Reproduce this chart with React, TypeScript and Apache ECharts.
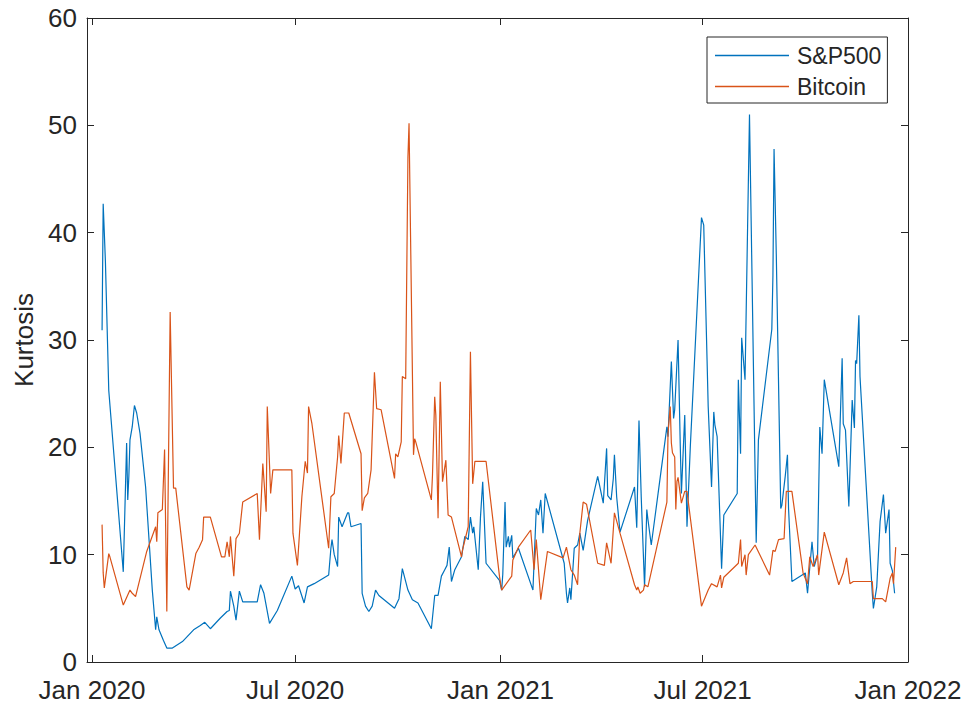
import React, { useEffect, useRef } from "react";
import * as echarts from "echarts";

// Rolling kurtosis of daily returns, S&P500 vs Bitcoin
const sp500: [string, number][] = [
  ["2020-01-10", 30.9], ["2020-01-11", 42.7], ["2020-01-13", 37.3], ["2020-01-16", 25.3],
  ["2020-01-29", 8.4], ["2020-02-01", 20.4], ["2020-02-02", 15.1], ["2020-02-03", 17.3],
  ["2020-02-04", 20.7], ["2020-02-06", 21.9], ["2020-02-08", 23.9], ["2020-02-10", 23.2],
  ["2020-02-13", 21.3], ["2020-02-18", 16.3], ["2020-02-24", 6.7], ["2020-02-27", 3.0],
  ["2020-02-28", 4.2], ["2020-03-01", 3.0], ["2020-03-05", 2.0], ["2020-03-08", 1.3],
  ["2020-03-13", 1.3], ["2020-03-22", 1.9], ["2020-04-01", 3.0], ["2020-04-07", 3.4],
  ["2020-04-11", 3.7], ["2020-04-16", 3.1], ["2020-04-25", 4.1], ["2020-05-01", 4.7],
  ["2020-05-03", 4.8], ["2020-05-04", 6.6], ["2020-05-07", 5.2], ["2020-05-09", 3.9],
  ["2020-05-12", 6.6], ["2020-05-15", 5.6], ["2020-05-28", 5.6], ["2020-05-31", 7.2],
  ["2020-06-03", 6.4], ["2020-06-08", 3.6], ["2020-06-15", 4.8], ["2020-06-28", 8.0],
  ["2020-07-01", 6.8], ["2020-07-04", 7.1], ["2020-07-09", 5.5], ["2020-07-12", 7.0],
  ["2020-07-18", 7.3], ["2020-07-31", 8.1], ["2020-08-02", 10.6], ["2020-08-03", 11.4],
  ["2020-08-05", 10.0], ["2020-08-08", 8.9], ["2020-08-09", 13.5], ["2020-08-12", 12.6],
  ["2020-08-17", 13.9], ["2020-08-18", 13.9], ["2020-08-20", 12.6], ["2020-08-29", 12.9],
  ["2020-08-30", 6.4], ["2020-09-02", 5.2], ["2020-09-05", 4.7], ["2020-09-08", 5.2],
  ["2020-09-11", 6.7], ["2020-09-14", 6.2], ["2020-09-28", 5.0], ["2020-10-02", 5.9],
  ["2020-10-05", 8.7], ["2020-10-10", 6.7], ["2020-10-14", 5.8], ["2020-10-19", 5.5],
  ["2020-10-31", 3.1], ["2020-11-03", 6.2], ["2020-11-06", 6.2], ["2020-11-09", 8.0],
  ["2020-11-12", 8.6], ["2020-11-14", 9.0], ["2020-11-16", 10.7], ["2020-11-18", 7.5],
  ["2020-11-21", 8.6], ["2020-11-27", 9.8], ["2020-11-30", 11.7], ["2020-12-03", 11.4],
  ["2020-12-05", 13.5], ["2020-12-07", 12.0], ["2020-12-08", 12.6], ["2020-12-12", 8.6],
  ["2020-12-14", 13.5], ["2020-12-16", 16.8], ["2020-12-19", 9.2], ["2020-12-31", 7.6],
  ["2021-01-02", 6.7], ["2021-01-03", 8.2], ["2021-01-05", 14.9], ["2021-01-06", 10.7],
  ["2021-01-08", 11.7], ["2021-01-09", 10.7], ["2021-01-11", 11.8], ["2021-01-12", 9.7],
  ["2021-01-17", 10.6], ["2021-01-30", 6.7], ["2021-02-02", 14.3], ["2021-02-04", 13.7],
  ["2021-02-06", 15.1], ["2021-02-08", 12.0], ["2021-02-10", 15.7], ["2021-02-27", 9.2],
  ["2021-03-01", 6.4], ["2021-03-02", 5.5], ["2021-03-04", 6.9], ["2021-03-05", 5.8],
  ["2021-03-08", 10.6], ["2021-03-11", 10.9], ["2021-03-13", 12.0], ["2021-03-16", 10.4],
  ["2021-03-20", 13.2], ["2021-03-29", 17.3], ["2021-04-03", 14.8], ["2021-04-06", 19.9],
  ["2021-04-07", 15.5], ["2021-04-10", 15.1], ["2021-04-12", 17.1], ["2021-04-13", 19.3],
  ["2021-04-15", 15.4], ["2021-04-18", 12.1], ["2021-05-01", 16.3], ["2021-05-03", 12.5],
  ["2021-05-05", 22.5], ["2021-05-07", 15.4], ["2021-05-10", 7.0], ["2021-05-12", 14.2],
  ["2021-05-13", 13.3], ["2021-05-16", 10.9], ["2021-05-30", 21.9], ["2021-05-31", 21.0],
  ["2021-06-03", 28.0], ["2021-06-05", 22.7], ["2021-06-06", 23.5], ["2021-06-09", 30.0],
  ["2021-06-11", 20.1], ["2021-06-12", 15.7], ["2021-06-15", 23.0], ["2021-06-17", 12.6],
  ["2021-06-20", 20.1], ["2021-06-30", 41.4], ["2021-07-02", 40.7], ["2021-07-05", 28.1],
  ["2021-07-06", 23.8], ["2021-07-09", 16.3], ["2021-07-11", 23.3], ["2021-07-12", 22.1],
  ["2021-07-14", 21.0], ["2021-07-18", 8.7], ["2021-07-20", 13.7], ["2021-08-01", 15.7],
  ["2021-08-02", 26.3], ["2021-08-04", 19.4], ["2021-08-05", 30.2], ["2021-08-08", 26.3],
  ["2021-08-12", 51.0], ["2021-08-18", 11.1], ["2021-08-20", 20.7], ["2021-09-01", 31.0],
  ["2021-09-02", 36.0], ["2021-09-03", 47.8], ["2021-09-05", 38.0], ["2021-09-09", 14.3],
  ["2021-09-10", 14.6], ["2021-09-13", 17.3], ["2021-09-15", 19.3], ["2021-09-16", 14.3],
  ["2021-09-19", 7.5], ["2021-10-01", 8.3], ["2021-10-03", 6.4], ["2021-10-07", 11.2],
  ["2021-10-09", 8.9], ["2021-10-12", 10.0], ["2021-10-14", 21.9], ["2021-10-16", 19.4],
  ["2021-10-18", 26.3], ["2021-10-31", 18.2], ["2021-11-01", 21.6], ["2021-11-03", 28.3],
  ["2021-11-04", 22.2], ["2021-11-06", 21.6], ["2021-11-09", 14.5], ["2021-11-12", 24.4],
  ["2021-11-14", 21.8], ["2021-11-15", 28.1], ["2021-11-16", 27.8], ["2021-11-18", 32.3],
  ["2021-11-19", 26.6], ["2021-11-30", 6.4], ["2021-12-01", 5.0], ["2021-12-04", 7.0],
  ["2021-12-07", 13.1], ["2021-12-10", 15.6], ["2021-12-12", 12.0], ["2021-12-15", 14.2],
  ["2021-12-16", 9.2], ["2021-12-18", 8.5], ["2021-12-20", 6.4],
];

const bitcoin: [string, number][] = [
  ["2020-01-10", 12.8], ["2020-01-11", 8.3], ["2020-01-12", 6.9], ["2020-01-16", 10.1],
  ["2020-01-17", 9.8], ["2020-01-29", 5.3], ["2020-02-04", 6.7], ["2020-02-06", 6.4],
  ["2020-02-09", 6.1], ["2020-02-19", 10.3], ["2020-02-27", 12.6], ["2020-02-28", 11.2],
  ["2020-02-29", 13.9], ["2020-03-04", 14.2], ["2020-03-06", 19.8], ["2020-03-08", 4.7],
  ["2020-03-11", 32.6], ["2020-03-14", 16.2], ["2020-03-16", 16.2], ["2020-03-26", 7.0],
  ["2020-03-28", 6.7], ["2020-04-03", 10.1], ["2020-04-06", 10.7], ["2020-04-09", 11.4],
  ["2020-04-10", 13.5], ["2020-04-16", 13.5], ["2020-04-26", 9.8], ["2020-04-29", 9.8],
  ["2020-05-01", 11.2], ["2020-05-03", 9.8], ["2020-05-04", 11.7], ["2020-05-07", 8.0],
  ["2020-05-09", 11.5], ["2020-05-12", 12.0], ["2020-05-15", 14.9], ["2020-05-28", 15.7],
  ["2020-05-30", 11.4], ["2020-06-02", 18.5], ["2020-06-05", 14.0], ["2020-06-06", 23.8],
  ["2020-06-09", 15.7], ["2020-06-11", 17.9], ["2020-06-28", 17.9], ["2020-06-29", 12.0],
  ["2020-07-03", 9.0], ["2020-07-07", 15.4], ["2020-07-10", 18.7], ["2020-07-12", 17.6],
  ["2020-07-13", 23.8], ["2020-07-16", 22.2], ["2020-07-31", 10.6], ["2020-08-02", 15.4],
  ["2020-08-05", 15.7], ["2020-08-08", 19.1], ["2020-08-09", 21.1], ["2020-08-11", 18.5],
  ["2020-08-14", 23.2], ["2020-08-18", 23.2], ["2020-08-29", 19.4], ["2020-08-30", 14.1],
  ["2020-09-01", 15.3], ["2020-09-04", 15.7], ["2020-09-07", 17.9], ["2020-09-10", 27.0],
  ["2020-09-12", 23.6], ["2020-09-16", 23.5], ["2020-09-28", 17.1], ["2020-09-29", 19.4],
  ["2020-10-01", 19.1], ["2020-10-04", 20.5], ["2020-10-05", 26.6], ["2020-10-08", 26.4],
  ["2020-10-10", 47.0], ["2020-10-11", 50.2], ["2020-10-15", 19.3], ["2020-10-16", 20.8],
  ["2020-10-17", 20.5], ["2020-10-31", 15.1], ["2020-11-01", 17.4], ["2020-11-03", 24.7],
  ["2020-11-04", 23.0], ["2020-11-06", 13.4], ["2020-11-08", 26.1], ["2020-11-10", 16.8],
  ["2020-11-13", 18.8], ["2020-11-15", 13.7], ["2020-11-18", 13.5], ["2020-11-27", 9.8],
  ["2020-11-28", 10.5], ["2020-12-03", 12.6], ["2020-12-05", 28.9], ["2020-12-07", 16.6],
  ["2020-12-09", 18.7], ["2020-12-19", 18.7], ["2020-12-31", 8.0],
  ["2021-01-02", 6.7], ["2021-01-11", 8.0], ["2021-01-12", 9.5], ["2021-01-17", 10.7],
  ["2021-01-28", 12.3], ["2021-01-31", 8.6], ["2021-02-02", 11.4], ["2021-02-06", 5.8],
  ["2021-02-12", 10.3], ["2021-02-26", 9.7], ["2021-03-01", 10.7], ["2021-03-05", 8.6],
  ["2021-03-08", 8.1], ["2021-03-11", 7.2], ["2021-03-13", 12.0], ["2021-03-16", 14.9],
  ["2021-03-19", 14.7], ["2021-03-29", 9.2], ["2021-04-04", 9.0], ["2021-04-06", 11.1],
  ["2021-04-10", 9.2], ["2021-04-13", 13.9], ["2021-04-18", 12.0], ["2021-05-01", 7.2],
  ["2021-05-03", 6.7], ["2021-05-04", 7.0], ["2021-05-06", 6.4], ["2021-05-09", 6.7],
  ["2021-05-10", 7.2], ["2021-05-13", 7.0], ["2021-05-30", 14.9], ["2021-05-31", 21.3],
  ["2021-06-02", 23.8], ["2021-06-03", 20.4], ["2021-06-04", 19.5], ["2021-06-06", 19.1],
  ["2021-06-07", 14.2], ["2021-06-08", 16.8], ["2021-06-09", 17.2], ["2021-06-12", 14.8],
  ["2021-06-15", 15.9], ["2021-06-17", 15.9], ["2021-06-30", 5.2], ["2021-07-06", 6.7],
  ["2021-07-09", 7.3], ["2021-07-14", 7.0], ["2021-07-17", 8.1], ["2021-07-18", 6.9],
  ["2021-07-20", 7.9], ["2021-08-02", 9.2], ["2021-08-04", 11.4], ["2021-08-05", 8.9],
  ["2021-08-08", 10.0], ["2021-08-09", 8.1], ["2021-08-11", 10.0], ["2021-08-17", 10.9],
  ["2021-08-30", 8.1], ["2021-09-02", 10.4], ["2021-09-04", 10.3], ["2021-09-07", 11.4],
  ["2021-09-12", 11.5], ["2021-09-14", 15.9], ["2021-09-19", 15.9], ["2021-09-29", 8.3],
  ["2021-10-03", 7.3], ["2021-10-05", 9.8], ["2021-10-08", 8.9], ["2021-10-12", 10.0],
  ["2021-10-13", 8.1], ["2021-10-18", 12.1], ["2021-10-31", 7.2], ["2021-11-04", 8.3],
  ["2021-11-07", 9.7], ["2021-11-10", 7.3], ["2021-11-13", 7.5], ["2021-11-30", 7.5],
  ["2021-12-01", 5.9], ["2021-12-09", 5.9], ["2021-12-12", 5.6], ["2021-12-16", 7.8],
  ["2021-12-18", 8.3], ["2021-12-19", 7.3], ["2021-12-21", 10.7],
];

// Half-yearly tick dates along the date axis
const xTickDates = ["2020-01-01", "2020-07-01", "2021-01-01", "2021-07-01", "2022-01-01"];
const xMinDate = "2019-12-27T12:00:00";
const xMaxDate = "2022-01-01T00:00:00";
const monthNames = ["Jan", "Feb", "Mar", "Apr", "May", "Jun", "Jul", "Aug", "Sep", "Oct", "Nov", "Dec"];

const AXIS_COLOR = "#262626";
const FONT = "'Liberation Sans', Arial, Helvetica, sans-serif";
const TICK_FONT_SIZE = 26;

// Parse "YYYY-MM-DD" or "YYYY-MM-DDTHH:MM:SS" as a UTC timestamp
const toTime = (s: string) => {
  const [y, m, d] = s.slice(0, 10).split("-").map(Number);
  const rest = s.length > 10 ? s.slice(11).split(":").map(Number) : [0, 0, 0];
  return Date.UTC(y, m - 1, d, rest[0], rest[1], rest[2]);
};

const formatMonthYear = (v: number) => {
  const d = new Date(v);
  return `${monthNames[d.getUTCMonth()]} ${d.getUTCFullYear()}`;
};

export default function App() {
  const ref = useRef<HTMLDivElement>(null);

  useEffect(() => {
    if (!ref.current) return;
    const chart = echarts.init(ref.current, undefined, { renderer: "svg" });
    const tickValues = xTickDates.map(toTime);
    const xMin = toTime(xMinDate);
    const xMax = toTime(xMaxDate);

    const xBase = {
      type: "value" as const,
      min: xMin,
      max: xMax,
      scale: true,
      splitLine: { show: false },
      axisLine: { show: true, onZero: false, lineStyle: { color: AXIS_COLOR, width: 1 } },
      axisTick: { show: true, inside: true, length: 7, customValues: tickValues, lineStyle: { color: AXIS_COLOR } },
    };
    const yBase = {
      type: "value" as const,
      min: 0,
      max: 60,
      interval: 10,
      splitLine: { show: false },
      axisLine: { show: true, onZero: false, lineStyle: { color: AXIS_COLOR, width: 1 } },
      axisTick: { show: true, inside: true, length: 7, lineStyle: { color: AXIS_COLOR } },
    };

    chart.setOption({
      animation: false,
      backgroundColor: "#ffffff",
      textStyle: { fontFamily: FONT },
      grid: {
        left: 87,
        right: 58,
        top: 18,
        bottom: 45,
        containLabel: false,
        outerBoundsMode: "none",
      },
      legend: {
        orient: "vertical",
        left: 707,
        top: 37,
        padding: [5, 6, 3, 8],
        itemGap: 4,
        itemWidth: 74,
        itemHeight: 1.4,
        icon: "rect",
        backgroundColor: "#ffffff",
        borderColor: AXIS_COLOR,
        borderWidth: 1,
        borderRadius: 0,
        textStyle: {
          fontFamily: FONT,
          fontSize: 23,
          color: AXIS_COLOR,
          lineHeight: 27,
          width: 84,
          padding: [0, 0, 0, 3],
        },
        data: ["S&P500", "Bitcoin"],
      },
      xAxis: [
        {
          ...xBase,
          position: "bottom",
          axisLabel: {
            show: true,
            customValues: tickValues,
            margin: 17,
            fontSize: TICK_FONT_SIZE,
            lineHeight: 22,
            color: AXIS_COLOR,
            fontFamily: FONT,
            formatter: formatMonthYear,
          },
        },
        { ...xBase, position: "top", axisLabel: { show: false } },
      ],
      yAxis: [
        {
          ...yBase,
          position: "left",
          name: "Kurtosis",
          nameLocation: "middle",
          nameGap: 46,
          nameTextStyle: { fontSize: TICK_FONT_SIZE, color: AXIS_COLOR, fontFamily: FONT },
          axisLabel: { margin: 10, fontSize: TICK_FONT_SIZE, lineHeight: 22, color: AXIS_COLOR, fontFamily: FONT },
        },
        { ...yBase, position: "right", axisLabel: { show: false } },
      ],
      series: [
        {
          name: "S&P500",
          type: "line",
          xAxisIndex: 0,
          yAxisIndex: 0,
          data: sp500.map(([d, v]) => [toTime(d), v]),
          symbol: "none",
          showSymbol: false,
          color: "#0072BD",
          lineStyle: { width: 1.2, color: "#0072BD" },
        },
        {
          name: "Bitcoin",
          type: "line",
          xAxisIndex: 0,
          yAxisIndex: 0,
          data: bitcoin.map(([d, v]) => [toTime(d), v]),
          symbol: "none",
          showSymbol: false,
          color: "#D95319",
          lineStyle: { width: 1.2, color: "#D95319" },
        },
      ],
    });

    return () => chart.dispose();
  }, []);

  return (
    <div
      ref={ref}
      style={{ position: "absolute", left: 0, top: 0, width: 966, height: 707, background: "#ffffff" }}
    />
  );
}
